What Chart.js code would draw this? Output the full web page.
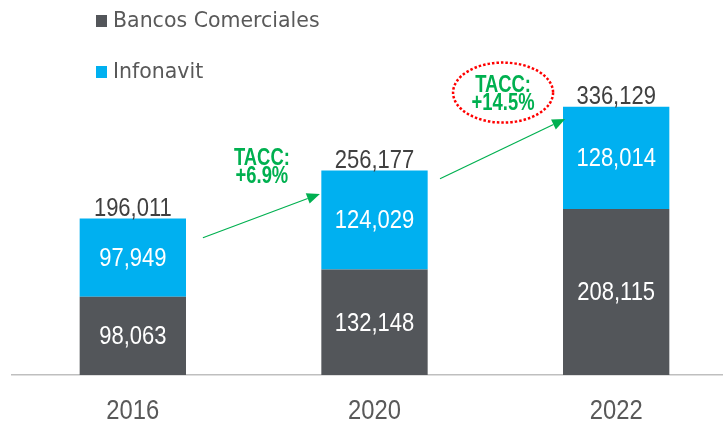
<!DOCTYPE html>
<html>
<head>
<meta charset="utf-8">
<script src="https://cdn.jsdelivr.net/npm/chart.js@4"></script>
<style>
  html, body { margin: 0; padding: 0; background: #fff; overflow: hidden; }
  #wrap { width: 737px; height: 422px; position: relative; }
</style>
</head>
<body>
<div id="wrap"><canvas id="tacc-chart"></canvas></div>
<script>
const years    = ['2016', '2020', '2022'];
const bancos   = [98063, 132148, 208115];
const infonavit = [97949, 124029, 128014];
const totales  = [196011, 256177, 336129];

const seriesNames = ['Bancos Comerciales', 'Infonavit'];
const seriesColors = ['#53565A', '#00B0F0'];

// crecimiento anotado: [indice x, valor y] en unidades del grafico
const flechas = [
    { from: [0.29, 172000], to: [0.774, 227000] },
    { from: [1.271, 246000], to: [1.789, 321000] }
];
const taccTextos = [
    { at: [0.534, 263500], lines: ['TACC:', '+6.9%'], circulo: false },
    { at: [1.532, 355200], lines: ['TACC:', '+14.5%'], circulo: true }
];

const sans = "'Liberation Sans', Arial, sans-serif";
const verde = '#00B050';

// texto comprimido en horizontal (la fuente original es mas estrecha)
function textoEstrecho(c, txt, x, y, sx) {
    c.save();
    c.translate(x, y);
    c.scale(sx, 1);
    c.fillText(txt, 0, 0);
    c.restore();
}

const etiquetas = {
    id: 'etiquetas',
    afterDatasetsDraw(chart) {
        const c = chart.ctx;
        const xs = chart.scales.x, ys = chart.scales.y;
        c.save();
        c.font = '26.5px ' + sans;
        c.textAlign = 'center';
        c.textBaseline = 'middle';
        chart.data.datasets.forEach((ds, i) => {
            chart.getDatasetMeta(i).data.forEach((bar, j) => {
                const mid = (bar.y + bar.base) / 2;
                c.fillStyle = '#ffffff';
                textoEstrecho(c, ds.data[j].toLocaleString('en-US'), bar.x, mid + 1, 0.83);
            });
        });
        // totales
        const top = chart.getDatasetMeta(1).data;
        c.fillStyle = '#404040';
        c.textBaseline = 'alphabetic';
        top.forEach((bar, j) => {
            textoEstrecho(c, totales[j].toLocaleString('en-US'), bar.x, bar.y - 3, 0.83);
        });

        // etiquetas del eje x
        c.font = '28px ' + sans;
        c.fillStyle = '#595959';
        years.forEach((y, j) => {
            textoEstrecho(c, y, xs.getPixelForValue(j), xs.top + 44, 0.85);
        });

        const px = p => [xs.getPixelForValue(p[0]), ys.getPixelForValue(p[1])];

        // flechas
        c.strokeStyle = verde;
        c.fillStyle = verde;
        c.lineWidth = 1.2;
        flechas.forEach(f => {
            const [x1, y1] = px(f.from);
            const [x2, y2] = px(f.to);
            const ang = Math.atan2(y2 - y1, x2 - x1);
            const hl = 13, hw = 5.5;
            const bx = x2 - hl * Math.cos(ang), by = y2 - hl * Math.sin(ang);
            c.beginPath();
            c.moveTo(x1, y1);
            c.lineTo(bx, by);
            c.stroke();
            c.beginPath();
            c.moveTo(x2, y2);
            c.lineTo(bx + hw * Math.sin(ang), by - hw * Math.cos(ang));
            c.lineTo(bx - hw * Math.sin(ang), by + hw * Math.cos(ang));
            c.closePath();
            c.fill();
        });

        // textos TACC
        c.font = 'bold 23px ' + sans;
        c.textAlign = 'center';
        c.textBaseline = 'alphabetic';
        taccTextos.forEach(t => {
            const [x, y] = px(t.at);
            c.fillStyle = verde;
            textoEstrecho(c, t.lines[0], x, y, 0.8);
            textoEstrecho(c, t.lines[1], x, y + 18, 0.8);
            if (t.circulo) {
                c.save();
                c.strokeStyle = '#FF0000';
                c.lineWidth = 2.5;
                c.setLineDash([2.5, 2]);
                c.beginPath();
                c.ellipse(x, y + 1, 50, 30, 0, 0, Math.PI * 2);
                c.stroke();
                c.restore();
            }
        });
        c.restore();
    }
};

const leyenda = {
    id: 'leyenda',
    afterDraw(chart) {
        const c = chart.ctx;
        c.save();
        c.font = '20.5px "DejaVu Sans", sans-serif';
        c.textBaseline = 'alphabetic';
        c.textAlign = 'left';
        seriesNames.forEach((n, i) => {
            const y = 27 + i * 51;
            c.fillStyle = seriesColors[i];
            c.fillRect(96, y - 12, 11, 12);
            c.fillStyle = '#595959';
            c.fillText(n, 113, y);
        });
        c.restore();
    }
};

new Chart(document.getElementById('tacc-chart'), {
    type: 'bar',
    data: {
        labels: years,
        datasets: [
            { label: seriesNames[0], data: bancos, backgroundColor: seriesColors[0], borderWidth: 0 },
            { label: seriesNames[1], data: infonavit, backgroundColor: seriesColors[1], borderWidth: 0 }
        ]
    },
    options: {
        responsive: true,
        maintainAspectRatio: false,
        animation: false,
        layout: { padding: { left: 12, top: 0, right: 0, bottom: 0 } },
        datasets: { bar: { categoryPercentage: 1, barPercentage: 0.44 } },
        plugins: { legend: { display: false }, tooltip: { enabled: false } },
        scales: {
            x: {
                stacked: true,
                grid: { display: false },
                border: { display: true, color: '#BFBFBF', width: 1.5 },
                ticks: { display: false },
                afterFit(s) { s.height = 47; }
            },
            y: {
                stacked: true,
                display: false,
                min: 0,
                max: 470000
            }
        }
    },
    plugins: [etiquetas, leyenda]
});
</script>
</body>
</html>
